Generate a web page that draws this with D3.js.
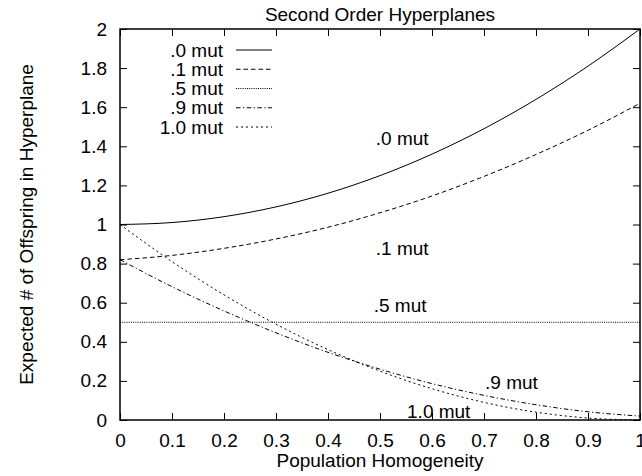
<!DOCTYPE html>
<html>
<head>
<meta charset="utf-8">
<script src="https://cdn.jsdelivr.net/npm/d3@7"></script>
<style>
  html, body { margin: 0; padding: 0; background: #fff; }
  svg text { font-family: "Liberation Sans", Arial, Helvetica, sans-serif; fill: #000; }
</style>
</head>
<body>
<svg id="chart" width="642" height="476"></svg>
<script>
// ---- data ----
const homogeneity = [0, 0.1, 0.2, 0.3, 0.4, 0.5, 0.6, 0.7, 0.8, 0.9, 1.0];
const mut00 = [1.00, 1.01, 1.04, 1.09, 1.16, 1.25, 1.36, 1.49, 1.64, 1.81, 2.00];
const mut01 = [0.82, 0.842, 0.878, 0.926, 0.986, 1.06, 1.146, 1.246, 1.358, 1.482, 1.62];
const mut05 = [0.5, 0.5, 0.5, 0.5, 0.5, 0.5, 0.5, 0.5, 0.5, 0.5, 0.5];
const mut09 = [0.82, 0.682, 0.558, 0.446, 0.346, 0.26, 0.186, 0.126, 0.078, 0.042, 0.02];
const mut10 = [1.00, 0.81, 0.64, 0.49, 0.36, 0.25, 0.16, 0.09, 0.04, 0.01, 0.00];
const seriesNames = [".0 mut", ".1 mut", ".5 mut", ".9 mut", "1.0 mut"];
const xTicks = [0, 0.1, 0.2, 0.3, 0.4, 0.5, 0.6, 0.7, 0.8, 0.9, 1];
const xTickLabels = ["0", "0.1", "0.2", "0.3", "0.4", "0.5", "0.6", "0.7", "0.8", "0.9", "1"];
const yTicks = [0, 0.2, 0.4, 0.6, 0.8, 1, 1.2, 1.4, 1.6, 1.8, 2];
const yTickLabels = ["0", "0.2", "0.4", "0.6", "0.8", "1", "1.2", "1.4", "1.6", "1.8", "2"];
// curve annotation labels (data coordinates)
const annotX = [0.492, 0.492, 0.488, 0.702, 0.552];
const annotY = [1.44, 0.88, 0.588, 0.194, 0.046];

// ---- styles ----
const dashes = [null, "4.5,3", "1,1.2", "4.5,2.5,1.2,2.5", "2,3"];
const FONT = 19;

const svg = d3.select("#chart");
const pL = 120, pR = 640, pT = 29, pB = 420;
const x = d3.scaleLinear().domain([0, 1]).range([pL, pR]);
const y = d3.scaleLinear().domain([0, 2]).range([pB, pT]);

const allSeries = [mut00, mut01, mut05, mut09, mut10];

const line = d3.line()
  .x((d, i) => x(homogeneity[i]))
  .y(d => y(d))
  .curve(d3.curveMonotoneX);

const gLines = svg.append("g");
allSeries.forEach((vals, k) => {
  gLines.append("path")
    .attr("d", line(vals))
    .attr("fill", "none")
    .attr("stroke", "#000")
    .attr("stroke-width", 1)
    .attr("stroke-dasharray", dashes[k]);
});

const tickLen = 7;
const bottomAxis = d3.axisBottom(x).tickValues(xTicks).tickSize(-tickLen).tickPadding(14)
  .tickFormat((d, i) => xTickLabels[i]);
const topAxis = d3.axisTop(x).tickValues(xTicks).tickSize(-tickLen).tickFormat("");
const leftAxis = d3.axisLeft(y).tickValues(yTicks).tickSize(-tickLen).tickPadding(13)
  .tickFormat((d, i) => yTickLabels[i]);
const rightAxis = d3.axisRight(y).tickValues(yTicks).tickSize(-tickLen).tickFormat("");

function styleAxis(g) {
  g.select(".domain").remove();
  g.selectAll(".tick line").attr("stroke", "#000").attr("stroke-width", 1);
  g.selectAll(".tick text").style("font-size", FONT + "px").attr("fill", "#000");
}
svg.append("g").attr("transform", `translate(0,${pB})`).call(bottomAxis).call(styleAxis);
svg.append("g").attr("transform", `translate(0,${pT})`).call(topAxis).call(styleAxis);
svg.append("g").attr("transform", `translate(${pL},0)`).call(leftAxis).call(styleAxis);
svg.append("g").attr("transform", `translate(${pR},0)`).call(rightAxis).call(styleAxis);

svg.append("rect")
  .attr("x", pL).attr("y", pT)
  .attr("width", pR - pL).attr("height", pB - pT)
  .attr("fill", "none").attr("stroke", "#000").attr("stroke-width", 1.5);

svg.append("text").attr("x", (pL + pR) / 2).attr("y", 21)
  .attr("text-anchor", "middle").style("font-size", FONT + "px")
  .text("Second Order Hyperplanes");
svg.append("text").attr("x", (pL + pR) / 2).attr("y", 467)
  .attr("text-anchor", "middle").style("font-size", FONT + "px")
  .text("Population Homogeneity");
svg.append("text")
  .attr("transform", `translate(33,${(pT + pB) / 2}) rotate(-90)`)
  .attr("text-anchor", "middle").style("font-size", FONT + "px")
  .text("Expected # of Offspring in Hyperplane");

const legY0 = 50, legStep = 19.25;
seriesNames.forEach((name, k) => {
  const yy = legY0 + k * legStep;
  svg.append("text").attr("x", 223).attr("y", yy).attr("dy", "0.35em")
    .attr("text-anchor", "end").style("font-size", FONT + "px").text(name);
  svg.append("line").attr("x1", 236).attr("x2", 272).attr("y1", yy).attr("y2", yy)
    .attr("stroke", "#000").attr("stroke-width", 1)
    .attr("stroke-dasharray", dashes[k]);
});

seriesNames.forEach((name, k) => {
  svg.append("text").attr("x", x(annotX[k])).attr("y", y(annotY[k])).attr("dy", "0.35em")
    .style("font-size", FONT + "px").text(name);
});
</script>
</body>
</html>
